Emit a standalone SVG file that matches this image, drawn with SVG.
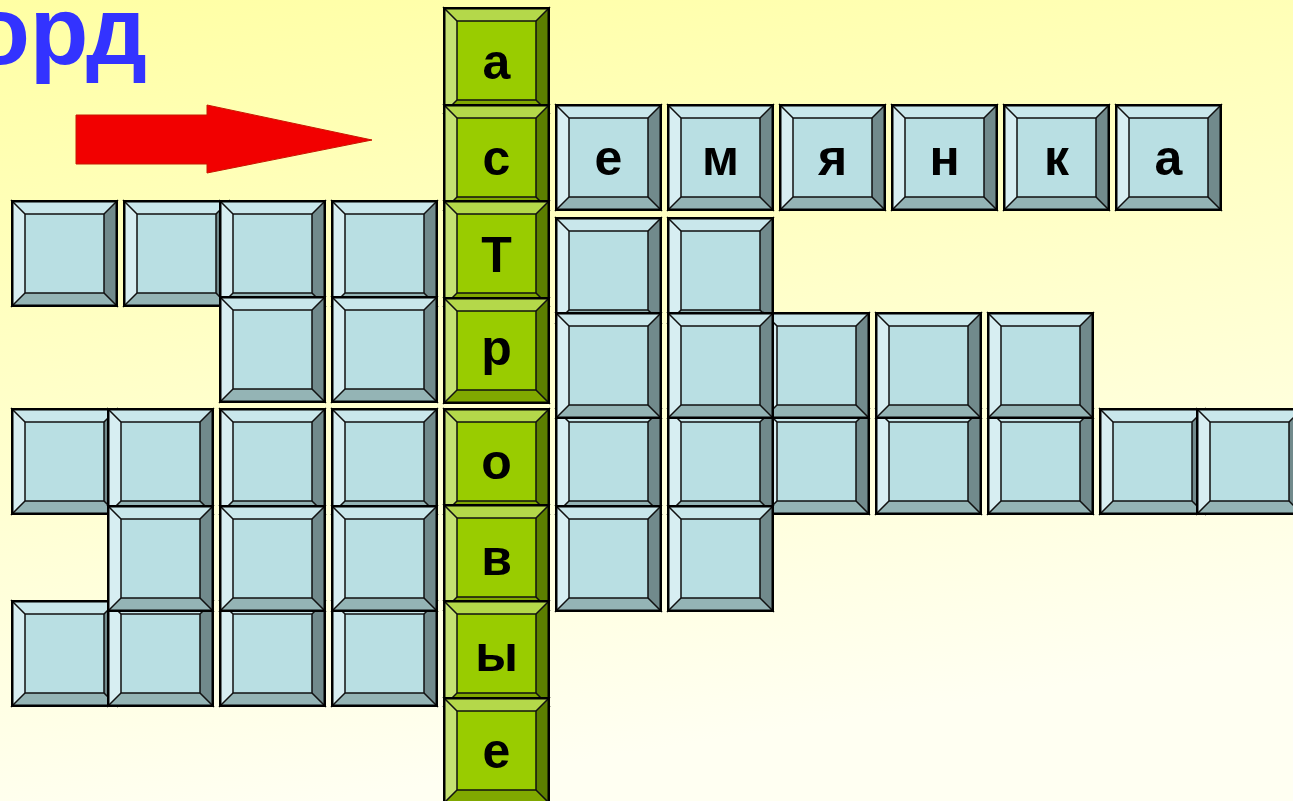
<svg xmlns="http://www.w3.org/2000/svg" xmlns:xlink="http://www.w3.org/1999/xlink" width="1293" height="801" viewBox="0 0 1293 801">
<style>
.lt{font-family:"Liberation Sans",Arial,sans-serif;font-weight:bold;font-size:50px;fill:#000;text-anchor:middle}
.ttl{font-family:"Liberation Sans",Arial,sans-serif;font-weight:bold;font-size:96px;fill:#3333ff;text-anchor:end}
.ln{stroke:#111;stroke-width:1.5;fill:none}
.ob{stroke:#000;stroke-width:2.5;fill:none}
</style>
<defs>
<linearGradient id="bg" x1="0" y1="0" x2="0.25" y2="1">
<stop offset="0" stop-color="#ffffa4"/>
<stop offset="1" stop-color="#fffff2"/>
</linearGradient>
<g id="cb">
<rect width="107" height="107" fill="#b9dfe3"/>
<polygon points="0,0 107,0 93,14 14,14" fill="#c9e7eb"/>
<polygon points="0,0 14,14 14,93 0,107" fill="#d7eef2"/>
<polygon points="107,0 107,107 93,93 93,14" fill="#718a8c"/>
<polygon points="0,107 107,107 93,93 14,93" fill="#94b4b5"/>
<path class="ln" d="M0,0L14,14M107,0L93,14M107,107L93,93M0,107L14,93"/>
<rect class="ln" x="14" y="14" width="79" height="79"/>
<rect class="ob" x="1.25" y="1.25" width="104.5" height="104.5"/>
</g>
<g id="cg">
<rect width="107" height="107" fill="#99cc00"/>
<polygon points="0,0 107,0 93,14 14,14" fill="#b4d84a"/>
<polygon points="0,0 14,14 14,93 0,107" fill="#c5e172"/>
<polygon points="107,0 107,107 93,93 93,14" fill="#5c7f00"/>
<polygon points="0,107 107,107 93,93 14,93" fill="#80a800"/>
<path class="ln" d="M0,0L14,14M107,0L93,14M107,107L93,93M0,107L14,93"/>
<rect class="ln" x="14" y="14" width="79" height="79"/>
<rect class="ob" x="1.25" y="1.25" width="104.5" height="104.5"/>
</g>
</defs>
<rect width="1293" height="801" fill="url(#bg)"/>
<text class="ttl" x="147" y="64">орд</text>
<g id="arrow">
<polygon points="76,115 207,115 207,105 372,140 207,173 207,164 76,164" fill="#f20000" stroke="#c81800" stroke-width="1"/>
</g>
<g id="left-block">
<g id="l2-1"><use xlink:href="#cb" x="11" y="200"/></g>
<g id="l2-2"><use xlink:href="#cb" x="123" y="200"/></g>
<g id="l2-3"><use xlink:href="#cb" x="219" y="200"/></g>
<g id="l2-4"><use xlink:href="#cb" x="331" y="200"/></g>
<g id="l3-1"><use xlink:href="#cb" x="219" y="296"/></g>
<g id="l3-2"><use xlink:href="#cb" x="331" y="296"/></g>
<g id="l4-1"><use xlink:href="#cb" x="11" y="408"/></g>
<g id="l4-2"><use xlink:href="#cb" x="107" y="408"/></g>
<g id="l4-3"><use xlink:href="#cb" x="219" y="408"/></g>
<g id="l4-4"><use xlink:href="#cb" x="331" y="408"/></g>
<g id="l6-1"><use xlink:href="#cb" x="11" y="600"/></g>
<g id="l6-2"><use xlink:href="#cb" x="107" y="600"/></g>
<g id="l6-3"><use xlink:href="#cb" x="219" y="600"/></g>
<g id="l6-4"><use xlink:href="#cb" x="331" y="600"/></g>
<g id="l5-1"><use xlink:href="#cb" x="107" y="505"/></g>
<g id="l5-2"><use xlink:href="#cb" x="219" y="505"/></g>
<g id="l5-3"><use xlink:href="#cb" x="331" y="505"/></g>
</g>
<g id="right-block">
<g id="r1-1"><use xlink:href="#cb" x="555" y="104"/><text class="lt" x="608.5" y="175">е</text></g>
<g id="r1-2"><use xlink:href="#cb" x="667" y="104"/><text class="lt" x="720.5" y="175">м</text></g>
<g id="r1-3"><use xlink:href="#cb" x="779" y="104"/><text class="lt" x="832.5" y="175">я</text></g>
<g id="r1-4"><use xlink:href="#cb" x="891" y="104"/><text class="lt" x="944.5" y="175">н</text></g>
<g id="r1-5"><use xlink:href="#cb" x="1003" y="104"/><text class="lt" x="1056.5" y="175">к</text></g>
<g id="r1-6"><use xlink:href="#cb" x="1115" y="104"/><text class="lt" x="1168.5" y="175">а</text></g>
<g id="r2-1"><use xlink:href="#cb" x="555" y="217"/></g>
<g id="r2-2"><use xlink:href="#cb" x="667" y="217"/></g>
<g id="r4-3"><use xlink:href="#cb" x="763" y="408"/></g>
<g id="r4-1"><use xlink:href="#cb" x="555" y="408"/></g>
<g id="r4-2"><use xlink:href="#cb" x="667" y="408"/></g>
<g id="r4-4"><use xlink:href="#cb" x="875" y="408"/></g>
<g id="r4-5"><use xlink:href="#cb" x="987" y="408"/></g>
<g id="r4-6"><use xlink:href="#cb" x="1099" y="408"/></g>
<g id="r4-7"><use xlink:href="#cb" x="1196" y="408"/></g>
<g id="r3-3"><use xlink:href="#cb" x="763" y="312"/></g>
<g id="r3-1"><use xlink:href="#cb" x="555" y="312"/></g>
<g id="r3-2"><use xlink:href="#cb" x="667" y="312"/></g>
<g id="r3-4"><use xlink:href="#cb" x="875" y="312"/></g>
<g id="r3-5"><use xlink:href="#cb" x="987" y="312"/></g>
<g id="r5-1"><use xlink:href="#cb" x="555" y="505"/></g>
<g id="r5-2"><use xlink:href="#cb" x="667" y="505"/></g>
</g>
<g id="key-column">
<g id="g1"><use xlink:href="#cg" x="443" y="7"/><text class="lt" x="496.5" y="79">а</text></g>
<g id="g2"><use xlink:href="#cg" x="443" y="104"/><text class="lt" x="496.5" y="175">с</text></g>
<g id="g3"><use xlink:href="#cg" x="443" y="200"/><text class="lt" x="496.5" y="272">Т</text></g>
<g id="g4"><use xlink:href="#cg" x="443" y="297"/><text class="lt" x="496.5" y="365">р</text></g>
<g id="g5"><use xlink:href="#cg" x="443" y="408"/><text class="lt" x="496.5" y="479">о</text></g>
<g id="g6"><use xlink:href="#cg" x="443" y="504"/><text class="lt" x="496.5" y="575">в</text></g>
<g id="g7"><use xlink:href="#cg" x="443" y="600"/><text class="lt" x="496.5" y="671">ы</text></g>
<g id="g8"><use xlink:href="#cg" x="443" y="697"/><text class="lt" x="496.5" y="768">е</text></g>
</g>
</svg>
